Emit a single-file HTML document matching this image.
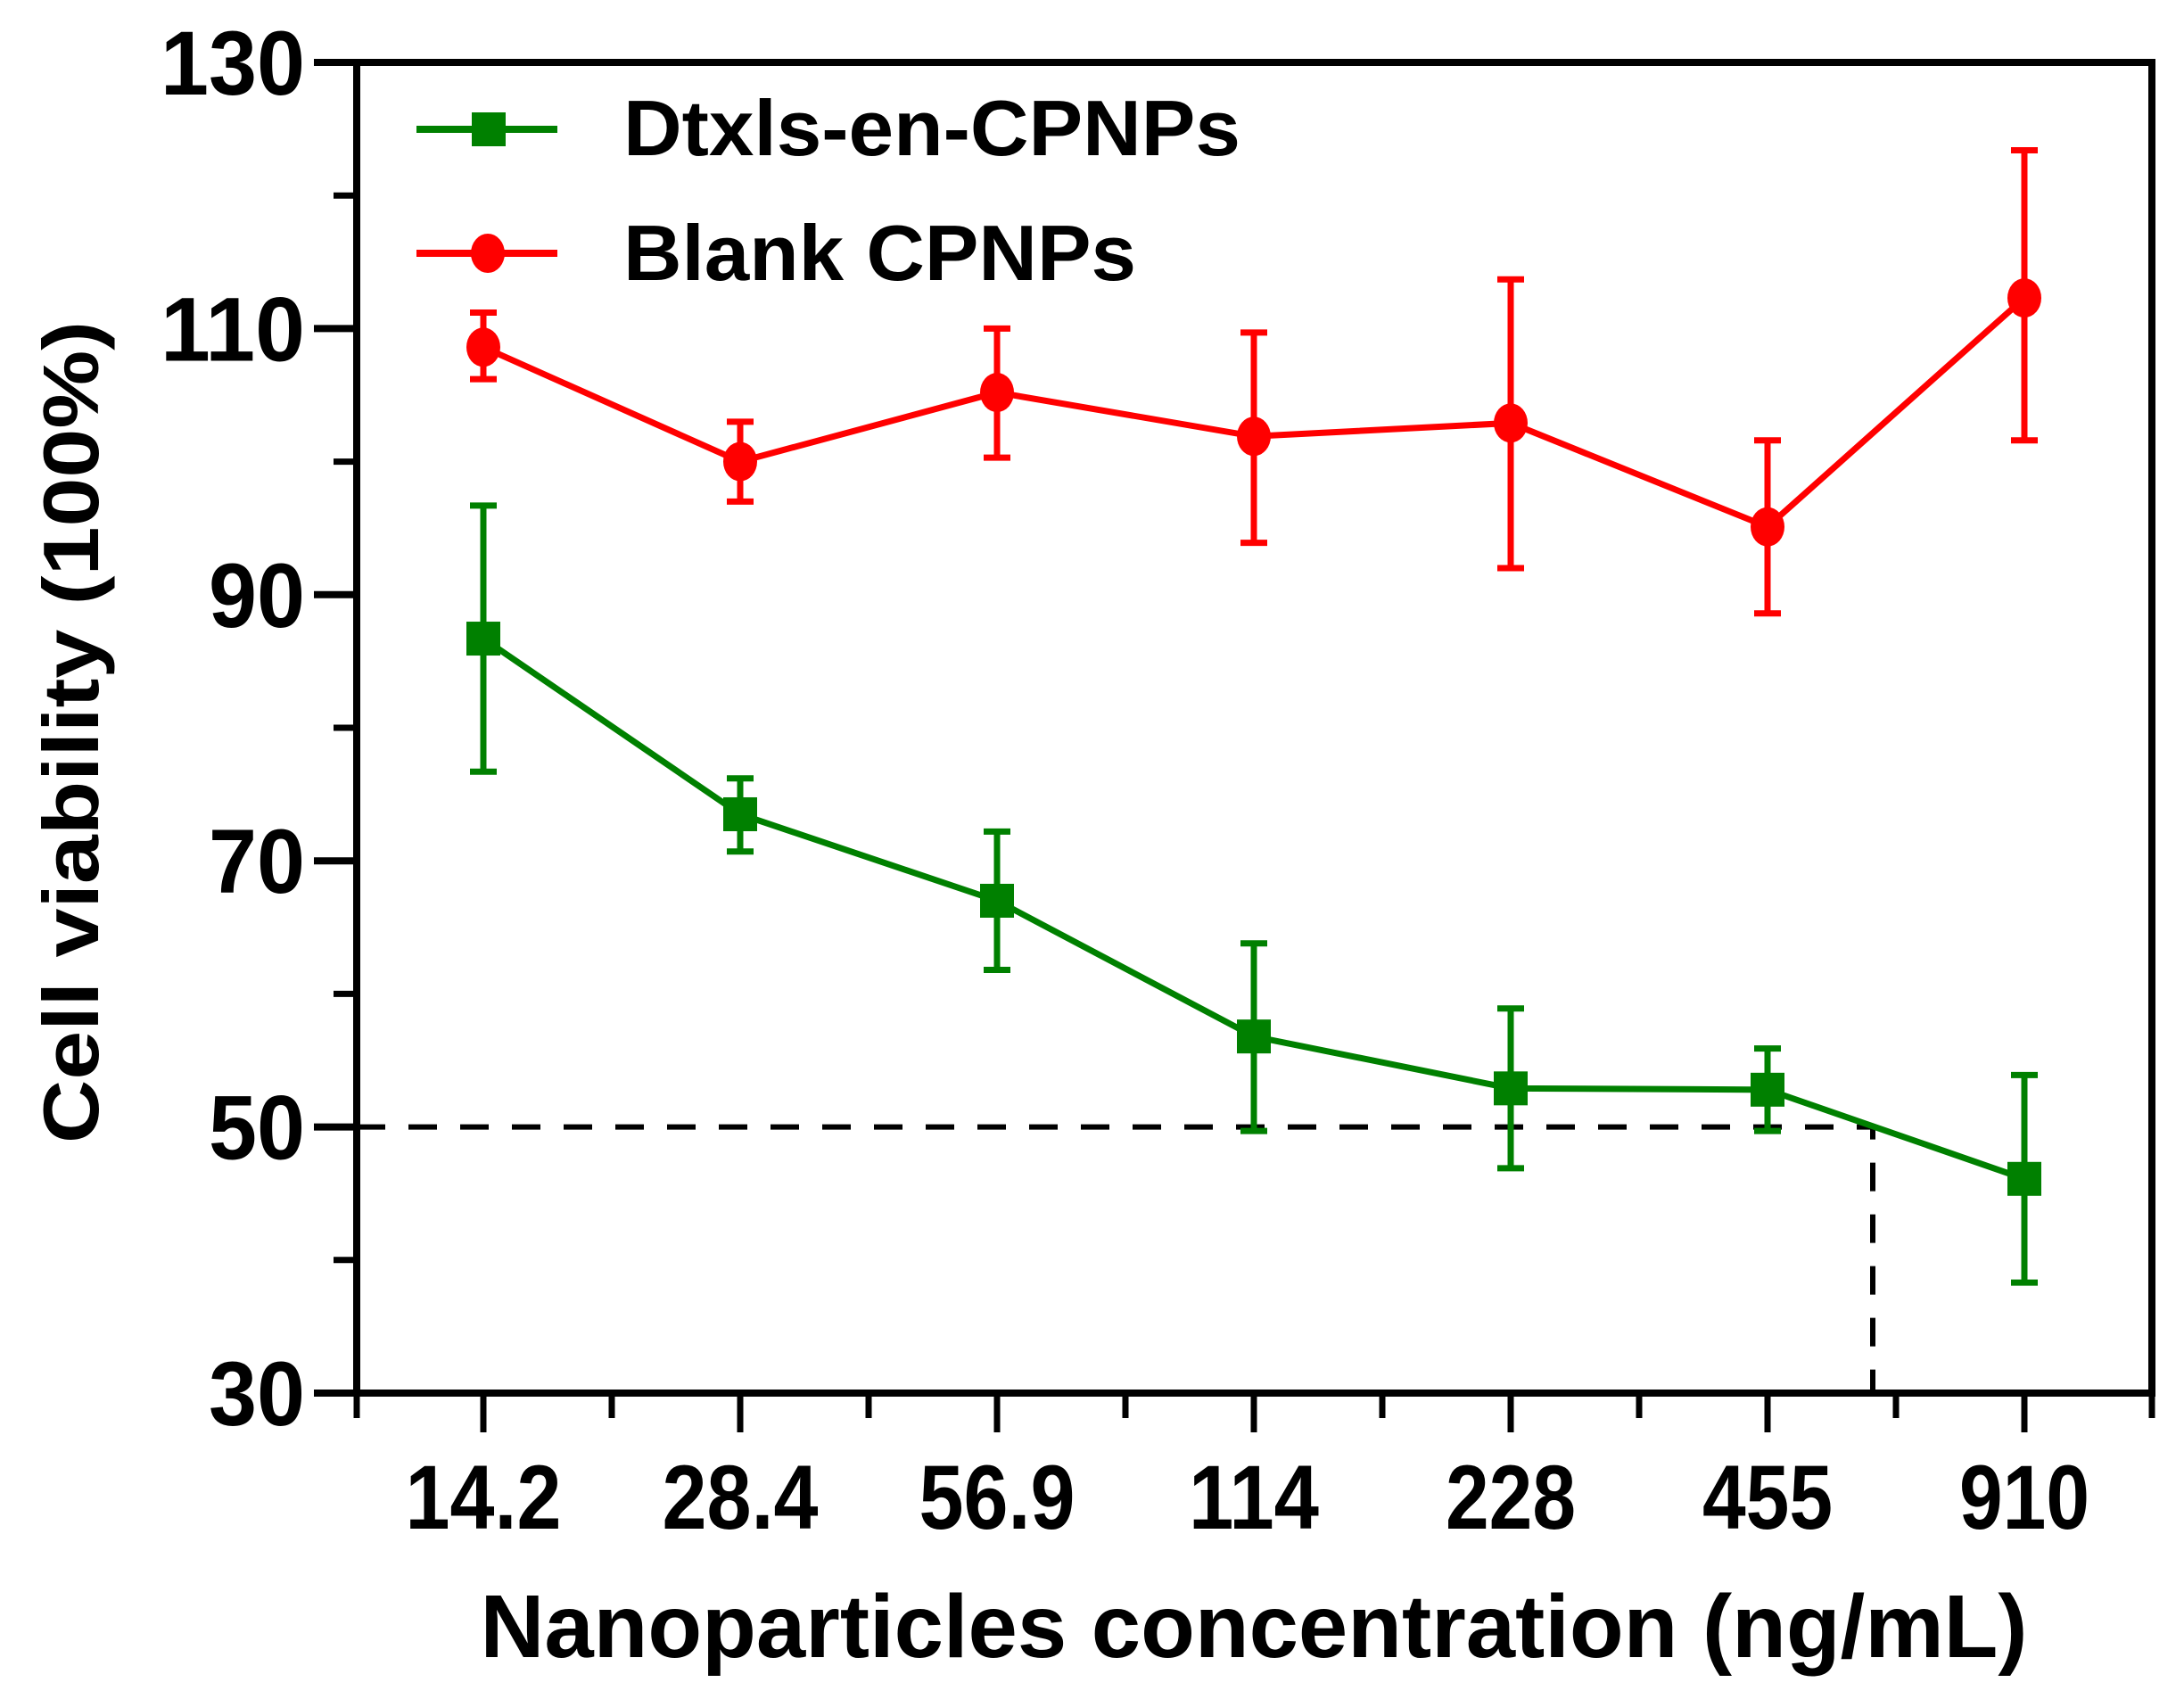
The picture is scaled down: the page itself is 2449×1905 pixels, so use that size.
<!DOCTYPE html>
<html><head><meta charset="utf-8"><style>
html,body{margin:0;padding:0;background:#fff;}
svg{display:block;}
text{font-family:"Liberation Sans",Arial,sans-serif;font-weight:bold;fill:#000;}
</style></head><body>
<svg id="chart" width="2449" height="1905" viewBox="0 0 2449 1905" xmlns="http://www.w3.org/2000/svg">
<g id="plot"></g>
</svg>
<script>
const categories = ["14.2","28.4","56.9","114","228","455","910"];
const yTicks = [30,50,70,90,110,130];
const yMinorTicks = [40,60,80,100,120];
const greenValues = [86.7,73.5,67.0,56.8,52.9,52.8,46.1];
const greenUpper = [96.7,76.2,72.2,63.8,58.9,55.9,53.9];
const greenLower = [76.7,70.7,61.8,49.7,46.9,49.7,38.3];
const redValues = [108.6,100.0,105.2,101.9,102.9,95.1,112.3];
const redUpper = [111.2,103.0,110.0,109.7,113.7,101.6,123.4];
const redLower = [106.2,97.0,100.3,93.9,92.0,88.6,101.6];
const ic50Value = 50;
const ic50Index = 5.5;

const NS="http://www.w3.org/2000/svg";
const L=400,R=2413,T=70,B=1562;
const yMin=30,yMax=130;
const y=v=>B-(v-yMin)/(yMax-yMin)*(B-T);
const x0=542,step=288;
const x=i=>x0+i*step;
const g=document.getElementById('plot');
function el(tag,attrs,parent){const e=document.createElementNS(NS,tag);for(const k in attrs)e.setAttribute(k,attrs[k]);(parent||g).appendChild(e);return e;}

const axes=el('g',{});


el('rect',{x:L,y:T,width:R-L,height:B-T,fill:'none',stroke:'#000','stroke-width':8},axes);

yTicks.forEach(v=>{
  const t=el('line',{x1:L-48,x2:L,y1:y(v),y2:y(v),stroke:'#000','stroke-width':8},axes);
  
  
  const lb=el('text',{x:L-58,y:y(v)+36,'font-size':102,'text-anchor':'end',textLength:v>=100?162:108,lengthAdjust:'spacingAndGlyphs'},axes);
  lb.textContent=v;
  
  
});
yMinorTicks.forEach(v=>{
  const t=el('line',{x1:L-26,x2:L,y1:y(v),y2:y(v),stroke:'#000','stroke-width':7},axes);
  
  
});
categories.forEach((c,i)=>{
  const t=el('line',{x1:x(i),x2:x(i),y1:B,y2:B+44,stroke:'#000','stroke-width':7},axes);
  
  
  const w=c.length===4?175:146;
  const lb=el('text',{x:x(i),y:1714,'font-size':102,'text-anchor':'middle',textLength:w,lengthAdjust:'spacingAndGlyphs'},axes);
  lb.textContent=c;
  
  
});
for(let i=-0.5;i<=categories.length-0.5;i+=1){
  const xx=Math.min(Math.max(x(i),L),R);
  const t=el('line',{x1:xx,x2:xx,y1:B,y2:B+28,stroke:'#000','stroke-width':7},axes);
  
  
}
const yt=el('text',{x:0,y:0,'font-size':88,'text-anchor':'middle',transform:`translate(110,${(360+1282)/2}) rotate(-90)`,textLength:922,lengthAdjust:'spacingAndGlyphs'});
yt.textContent='Cell viability (100%)';


const xt=el('text',{x:1406,y:1858,'font-size':100,'text-anchor':'middle',textLength:1735,lengthAdjust:'spacingAndGlyphs'});
xt.textContent='Nanoparticles concentration (ng/mL)';



const dx=x(ic50Index)+(2100-x(5.5));
const dl=el('polyline',{points:`${L},${y(ic50Value)} ${dx},${y(ic50Value)} ${dx},${B}`,fill:'none',stroke:'#000','stroke-width':6,'stroke-dasharray':'32 26'});



function series(vals,up,lo,color,shape,name){
  const sg=el('g',{});
  
  
  vals.forEach((v,i)=>{
    const e=el('path',{d:`M${x(i)-15},${y(up[i])}H${x(i)+15}M${x(i)},${y(up[i])}V${y(lo[i])}M${x(i)-15},${y(lo[i])}H${x(i)+15}`,stroke:color,'stroke-width':7,fill:'none'},sg);
    
    
  });
  const ln=el('polyline',{points:vals.map((v,i)=>`${x(i)},${y(v)}`).join(' '),fill:'none',stroke:color,'stroke-width':7},sg);
  
  
  vals.forEach((v,i)=>{
    let m;
    if(shape==='square') m=el('rect',{x:x(i)-19,y:y(v)-19,width:38,height:38,fill:color},sg);
    else m=el('ellipse',{cx:x(i),cy:y(v),rx:19,ry:22,fill:color},sg);
    
    
  });
}
series(redValues,redUpper,redLower,'#ff0000','circle','blank-cpnps');
series(greenValues,greenUpper,greenLower,'#008000','square','dtxls-en-cpnps');

const lg=el('g',{});


const e1=el('g',{},lg);


el('line',{x1:467,x2:625,y1:145,y2:145,stroke:'#008000','stroke-width':8},e1);
el('rect',{x:529,y:126,width:38,height:38,fill:'#008000'},e1);
const t1=el('text',{x:699,y:174,'font-size':88,textLength:692,lengthAdjust:'spacingAndGlyphs'},e1);
t1.textContent='Dtxls-en-CPNPs';
const e2=el('g',{},lg);


el('line',{x1:467,x2:625,y1:284,y2:284,stroke:'#ff0000','stroke-width':8},e2);
el('ellipse',{cx:547,cy:284,rx:19,ry:22,fill:'#ff0000'},e2);
const t2=el('text',{x:699,y:314,'font-size':88,textLength:575,lengthAdjust:'spacingAndGlyphs'},e2);
t2.textContent='Blank CPNPs';
</script>
</body></html>
